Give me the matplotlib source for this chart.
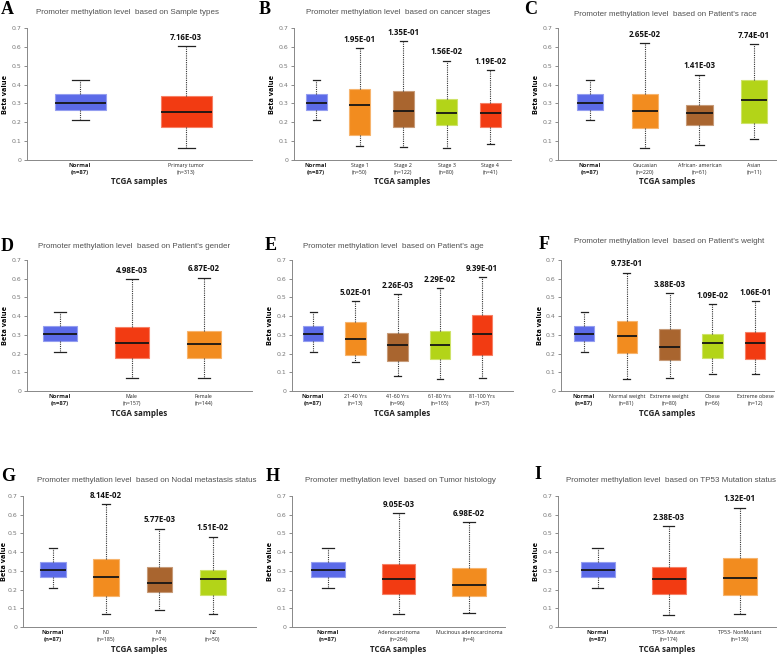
import matplotlib.pyplot as plt

W, H = 778, 654

BLUE = '#5b6ae8'
RED = '#f23b12'
ORANGE = '#f28c1f'
BROWN = '#a9652f'
LIME = '#b3d418'

# whislo, q1, median, q3, whishi
normal = [0.210, 0.267, 0.302, 0.349, 0.422]

a_groups = ['Normal\n(n=87)', 'Primary tumor\n(n=313)']
a_stats = [normal, [0.065, 0.175, 0.253, 0.337, 0.603]]
a_pvals = ['7.16E-03']
a_colors = [BLUE, RED]

b_groups = ['Normal\n(n=87)', 'Stage 1\n(n=50)', 'Stage 2\n(n=122)', 'Stage 3\n(n=80)', 'Stage 4\n(n=41)']
b_stats = [normal,
           [0.072, 0.133, 0.292, 0.375, 0.595],
           [0.070, 0.175, 0.258, 0.365, 0.630],
           [0.065, 0.187, 0.247, 0.322, 0.527],
           [0.087, 0.175, 0.247, 0.300, 0.477]]
b_pvals = ['1.95E-01', '1.35E-01', '1.56E-02', '1.19E-02']
b_colors = [BLUE, ORANGE, BROWN, LIME, RED]

c_groups = ['Normal\n(n=87)', 'Caucasian\n(n=220)', 'African- american\n(n=61)', 'Asian\n(n=11)']
c_stats = [normal,
           [0.066, 0.172, 0.260, 0.352, 0.618],
           [0.082, 0.183, 0.248, 0.290, 0.453],
           [0.110, 0.195, 0.320, 0.425, 0.613]]
c_pvals = ['2.65E-02', '1.41E-03', '7.74E-01']
c_colors = [BLUE, ORANGE, BROWN, LIME]

d_groups = ['Normal\n(n=87)', 'Male\n(n=157)', 'Female\n(n=144)']
d_stats = [normal,
           [0.071, 0.175, 0.255, 0.342, 0.597],
           [0.067, 0.174, 0.250, 0.321, 0.606]]
d_pvals = ['4.98E-03', '6.87E-02']
d_colors = [BLUE, RED, ORANGE]

e_groups = ['Normal\n(n=87)', '21-40 Yrs\n(n=13)', '41-60 Yrs\n(n=96)', '61-80 Yrs\n(n=165)', '81-100 Yrs\n(n=37)']
e_stats = [normal,
           [0.154, 0.193, 0.280, 0.368, 0.480],
           [0.082, 0.161, 0.245, 0.311, 0.520],
           [0.063, 0.171, 0.245, 0.321, 0.552],
           [0.071, 0.193, 0.307, 0.407, 0.611]]
e_pvals = ['5.02E-01', '2.26E-03', '2.29E-02', '9.39E-01']
e_colors = [BLUE, ORANGE, BROWN, LIME, RED]

f_groups = ['Normal\n(n=87)', 'Normal weight\n(n=81)', 'Extreme weight\n(n=80)', 'Obese\n(n=66)', 'Extreme obese\n(n=12)']
f_stats = [normal,
           [0.066, 0.203, 0.294, 0.376, 0.633],
           [0.070, 0.166, 0.233, 0.331, 0.524],
           [0.091, 0.175, 0.255, 0.303, 0.465],
           [0.091, 0.171, 0.257, 0.314, 0.481]]
f_pvals = ['9.73E-01', '3.88E-03', '1.09E-02', '1.06E-01']
f_colors = [BLUE, ORANGE, BROWN, LIME, RED]

g_groups = ['Normal\n(n=87)', 'N0\n(n=185)', 'N1\n(n=74)', 'N2\n(n=50)']
g_stats = [normal,
           [0.071, 0.163, 0.266, 0.364, 0.657],
           [0.091, 0.186, 0.233, 0.320, 0.526],
           [0.067, 0.172, 0.258, 0.302, 0.483]]
g_pvals = ['8.14E-02', '5.77E-03', '1.51E-02']
g_colors = [BLUE, ORANGE, BROWN, LIME]

h_groups = ['Normal\n(n=87)', 'Adenocarcinoma\n(n=264)', 'Mucinous adenocarcinoma\n(n=4)']
h_stats = [normal,
           [0.068, 0.177, 0.259, 0.339, 0.607],
           [0.073, 0.164, 0.225, 0.314, 0.559]]
h_pvals = ['9.05E-03', '6.98E-02']
h_colors = [BLUE, RED, ORANGE]

i_groups = ['Normal\n(n=87)', 'TP53- Mutant\n(n=174)', 'TP53- NonMutant\n(n=136)']
i_stats = [normal,
           [0.066, 0.175, 0.255, 0.321, 0.540],
           [0.071, 0.169, 0.264, 0.371, 0.638]]
i_pvals = ['2.38E-03', '1.32E-01']
i_colors = [BLUE, RED, ORANGE]

fig = plt.figure(figsize=(W / 100, H / 100), dpi=100)


def px_axes(left, right, top, bottom):
    return fig.add_axes([left / W, 1 - bottom / H, (right - left) / W, (bottom - top) / H])


def lighten(c, f=0.35):
    r, g, b = [int(c[k:k + 2], 16) / 255 for k in (1, 3, 5)]
    return (r + (1 - r) * f, g + (1 - g) * f, b + (1 - b) * f)


def panel(letter, title, groups, stats, pvals, colors, span, rows, xlim, letter_xy, title_xy):
    ax = px_axes(span[0], span[1], rows[0], rows[1])
    wpx = span[1] - span[0]
    hpx = rows[1] - rows[0]
    n = len(groups)
    bstats = [dict(whislo=s[0], q1=s[1], med=s[2], q3=s[3], whishi=s[4], fliers=[]) for s in stats]
    res = ax.bxp(bstats, positions=range(1, n + 1), widths=0.48, capwidths=0.16,
                 patch_artist=True, showfliers=False,
                 whiskerprops=dict(color='#333333', lw=0.8, linestyle=(0, (1, 1))),
                 capprops=dict(color='#222222', lw=0.9),
                 medianprops=dict(color='#151515', lw=1.3))
    for box, c in zip(res['boxes'], colors):
        box.set_facecolor(c)
        box.set_edgecolor(lighten(c))
        box.set_linewidth(0.8)
    # p-values above the tumour groups
    for k, p in enumerate(pvals):
        ax.text(k + 2, stats[k + 1][4] + 0.022, p, ha='center', va='bottom',
                fontsize=5.7, fontweight='bold', family='Open Sans', color='#111111')
    ax.set_xlim(*xlim)
    ax.set_ylim(0, 0.7)
    ax.set_yticks([0, 0.1, 0.2, 0.3, 0.4, 0.5, 0.6, 0.7])
    ax.set_yticklabels(['0', '0.1', '0.2', '0.3', '0.4', '0.5', '0.6', '0.7'])
    ax.set_xticks(range(1, n + 1))
    ax.set_xticklabels(groups, fontsize=3.8, family='Open Sans', color='#222222', linespacing=1.45)
    ax.get_xticklabels()[0].set_fontweight('bold')
    ax.get_xticklabels()[0].set_fontsize(4.2)
    ax.tick_params(axis='y', labelsize=4.5, labelcolor='#777777', length=2, width=0.6, color='#777777', pad=2)
    ax.tick_params(axis='x', length=0, pad=2)
    for s in ('top', 'right'):
        ax.spines[s].set_visible(False)
    for s in ('left', 'bottom'):
        ax.spines[s].set_color('#888888')
        ax.spines[s].set_linewidth(0.7)
    ax.set_ylabel('Beta value', fontsize=5.3, fontweight='bold', family='Open Sans', va='center')
    ax.yaxis.set_label_coords(-min(21, span[0] - 5) / wpx, 0.5)
    ax.set_xlabel('TCGA samples', fontsize=5.8, fontweight='bold', family='Open Sans',
                  color='#222222', va='center')
    ax.xaxis.set_label_coords(0.5, -22 / hpx)
    fig.text(letter_xy[0] / W, 1 - letter_xy[1] / H, letter, fontsize=13, fontweight='bold',
             family='Liberation Serif', ha='left', va='top')
    fig.text(title_xy[0] / W, 1 - title_xy[1] / H, 'Promoter methylation level  ' + title,
             fontsize=5.8, family='Liberation Sans', color='#505050', ha='center', va='center')
    return ax


row1 = (28, 160)
row2 = (260, 391)
row3 = (496, 627)

panel('A', 'based on Sample types', a_groups, a_stats, a_pvals, a_colors,
      (27, 252), row1, (0.5, 2.62), (1, 1), (128, 13))
panel('B', 'based on cancer stages', b_groups, b_stats, b_pvals, b_colors,
      (294, 511), row1, (0.49, 5.48), (259, 1), (398, 13))
panel('C', "based on Patient's race", c_groups, c_stats, c_pvals, c_colors,
      (558, 776), row1, (0.415, 4.40), (524, 1), (665, 14))
panel('D', "based on Patient's gender", d_groups, d_stats, d_pvals, d_colors,
      (27, 252), row2, (0.54, 3.67), (1, 238), (134, 246))
panel('E', "based on Patient's age", e_groups, e_stats, e_pvals, e_colors,
      (292, 513), row2, (0.50, 5.73), (265, 237), (393, 246))
panel('F', "based on Patient's weight", f_groups, f_stats, f_pvals, f_colors,
      (561, 774), row2, (0.46, 5.44), (539, 236), (669, 242))
panel('G', 'based on Nodal metastasis status', g_groups, g_stats, g_pvals, g_colors,
      (23, 256), row3, (0.44, 4.81), (1, 468), (147, 481))
panel('H', 'based on Tumor histology', h_groups, h_stats, h_pvals, h_colors,
      (292, 505), row3, (0.49, 3.51), (266, 468), (400, 480))
panel('I', 'based on TP53 Mutation status', i_groups, i_stats, i_pvals, i_colors,
      (558, 776), row3, (0.44, 3.51), (534, 466), (671, 481))

fig.savefig('out.png', dpi=100, facecolor='white')
